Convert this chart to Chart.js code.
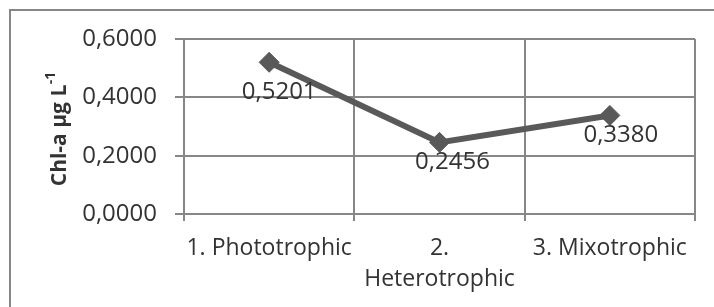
<!DOCTYPE html>
<html>
<head>
<meta charset="utf-8">
<script src="https://cdn.jsdelivr.net/npm/chart.js@4"></script>
<style>
  html, body { margin: 0; padding: 0; background: #fff; }
  #wrap { width: 714px; height: 307px; }
</style>
</head>
<body>
<div id="wrap"><canvas id="myChart" width="714" height="307"></canvas></div>
<script>
const categories = ['1. Phototrophic', ['2.', 'Heterotrophic'], '3. Mixotrophic'];
const chlValues = [0.5201, 0.2456, 0.3380];
const yTicks = [0, 0.2, 0.4, 0.6];
const yTitle = 'Chl-a µg L';
const yTitleSup = '-1';

// where each value label sits relative to its marker (pixels)
const labelShift = [[10, 30], [13, 20], [11, 20]];

const fmt = v => v.toFixed(4).replace('.', ',');
const textColor = '#333333';
const gridColor = '#878787';
const fontFamily = "'Open Sans', 'Liberation Sans', sans-serif";

// frame around the whole chart + y title with superscript + value labels
const extras = {
  id: 'extras',
  beforeDraw(chart) {
    const c = chart.ctx;
    c.save();
    c.fillStyle = '#fff';
    c.fillRect(0, 0, chart.width, chart.height);
    c.strokeStyle = gridColor;
    c.lineWidth = 2;
    c.strokeRect(10, 10, chart.width + 20, chart.height + 20);
    c.restore();
  },
  afterDatasetsDraw(chart) {
    const c = chart.ctx;
    c.save();
    c.fillStyle = textColor;
    c.font = '24px ' + fontFamily;
    c.textAlign = 'center';
    c.textBaseline = 'middle';
    chart.getDatasetMeta(0).data.forEach((pt, i) => {
      c.fillText(fmt(chlValues[i]), pt.x + labelShift[i][0], pt.y + labelShift[i][1]);
    });
    // y axis title
    const area = chart.chartArea;
    c.translate(60, (area.top + area.bottom) / 2);
    c.rotate(-Math.PI / 2);
    c.font = 'bold 21px ' + fontFamily;
    const w1 = c.measureText(yTitle + ' ').width;
    c.font = 'bold 14px ' + fontFamily;
    const w2 = c.measureText(yTitleSup).width;
    const start = -(w1 + w2) / 2;
    c.textAlign = 'left';
    c.font = 'bold 21px ' + fontFamily;
    c.fillText(yTitle, start, 0);
    c.font = 'bold 14px ' + fontFamily;
    c.fillText(yTitleSup, start + w1 - 5, -9);
    c.restore();
  }
};

new Chart(document.getElementById('myChart'), {
  type: 'line',
  data: {
    labels: categories,
    datasets: [{
      data: chlValues,
      borderColor: '#595959',
      backgroundColor: '#595959',
      borderWidth: 6,
      pointStyle: 'rectRot',
      pointRadius: 10,
      pointBorderWidth: 1,
      tension: 0
    }]
  },
  options: {
    responsive: false,
    animation: false,
    layout: { padding: { top: 39, right: 19, left: 0, bottom: 0 } },
    plugins: { legend: { display: false }, tooltip: { enabled: false } },
    scales: {
      x: {
        offset: true,
        grid: { offset: true, color: gridColor, lineWidth: 2, tickLength: 7 },
        border: { color: gridColor, width: 2 },
        ticks: {
          color: textColor,
          font: { family: fontFamily, size: 23, lineHeight: 1.35 },
          maxRotation: 0,
          autoSkip: false,
          padding: 12
        },
        afterFit: s => { s.height = 93; }
      },
      y: {
        min: 0,
        max: 0.6,
        afterBuildTicks: s => { s.ticks = yTicks.map(v => ({ value: v })); },
        grid: { color: gridColor, lineWidth: 2, tickLength: 9 },
        border: { color: gridColor, width: 2 },
        ticks: {
          color: textColor,
          font: { family: fontFamily, size: 24 },
          padding: 18,
          callback: v => fmt(v)
        },
        afterFit: s => { s.width = 184; }
      }
    }
  },
  plugins: [extras]
});
</script>
</body>
</html>
